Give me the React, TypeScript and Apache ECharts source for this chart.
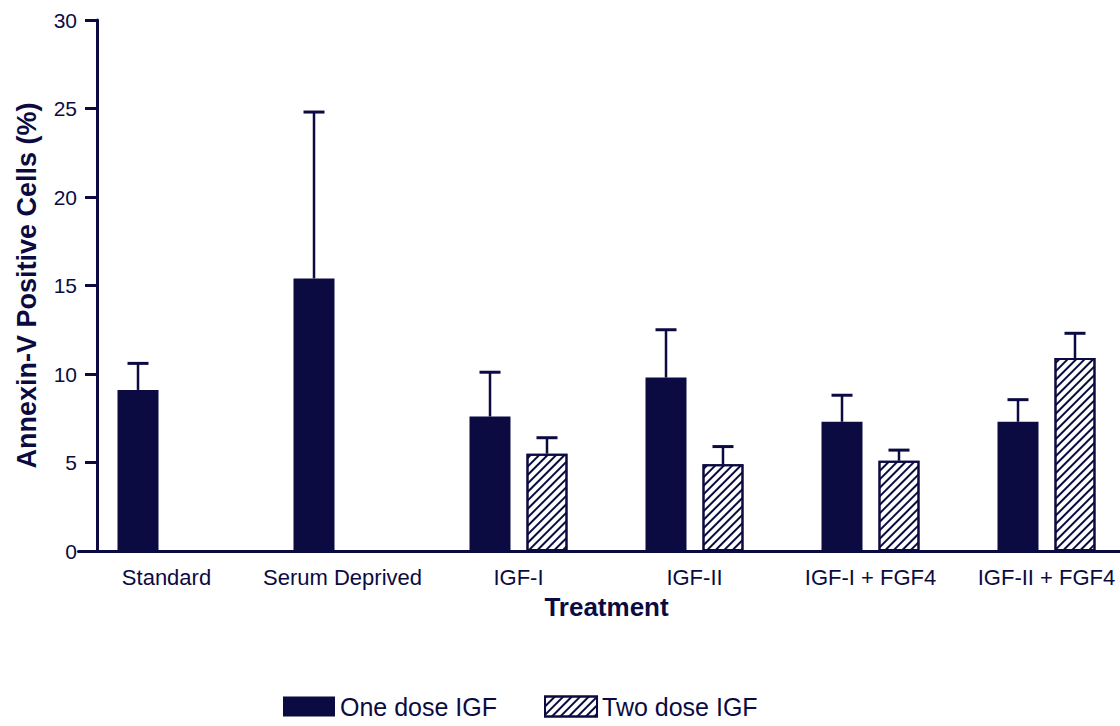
import React, { useEffect, useRef } from "react";
import * as echarts from "echarts";

const categories = ["Standard", "Serum Deprived", "IGF-I", "IGF-II", "IGF-I + FGF4", "IGF-II + FGF4"];
const oneDoseMean = [9.1, 15.4, 7.6, 9.8, 7.3, 7.3];
const oneDoseErr = [1.5, 9.4, 2.5, 2.7, 1.5, 1.25];
const twoDoseMean: (number | null)[] = [null, null, 5.5, 4.9, 5.1, 10.9];
const twoDoseErr: (number | null)[] = [null, null, 0.9, 1.0, 0.6, 1.4];
const yTicks = { min: 0, max: 30, interval: 5 };

const NAVY = "#0b0b42";
const FONT = "'Liberation Sans', Arial, sans-serif";
const BAR_W = 41;
const BAR_GAP = 0.39;

export default function App() {
  const ref = useRef<HTMLDivElement>(null);
  useEffect(() => {
    if (!ref.current) return;
    const chart = echarts.init(ref.current, undefined, { renderer: "svg" });
    const offset = (BAR_W * (1 + BAR_GAP)) / 2;

    const errData: number[][] = [];
    categories.forEach((_, i) => {
      errData.push([i, oneDoseMean[i], oneDoseMean[i] + oneDoseErr[i], -1]);
      const m = twoDoseMean[i];
      const e = twoDoseErr[i];
      if (m != null && e != null) errData.push([i, m, m + e, 1]);
    });

    chart.setOption({
      animation: false,
      backgroundColor: "#ffffff",
      textStyle: { fontFamily: FONT },
      grid: { left: 78.5, width: 1056, top: 20, height: 531, containLabel: false },
      legend: {
        left: 278,
        top: 689,
        itemWidth: 52,
        itemHeight: 20,
        itemGap: 47,
        icon: "rect",
        textStyle: { fontSize: 25, color: NAVY, fontFamily: FONT },
        data: ["One dose IGF", "Two dose IGF"],
      },
      xAxis: {
        type: "category",
        data: categories,
        boundaryGap: true,
        name: "Treatment",
        nameLocation: "middle",
        nameGap: 43,
        nameTextStyle: { fontSize: 26, fontWeight: "bold", color: NAVY, fontFamily: FONT },
        axisLine: { lineStyle: { color: NAVY, width: 3 } },
        axisTick: { show: false },
        axisLabel: { interval: 0, fontSize: 22, color: NAVY, margin: 15, fontFamily: FONT },
        splitLine: { show: false },
      },
      yAxis: {
        type: "value",
        min: yTicks.min,
        max: yTicks.max,
        interval: yTicks.interval,
        offset: -18.5,
        name: "Annexin-V Positive Cells (%)",
        nameLocation: "middle",
        nameGap: 57,
        nameTextStyle: { fontSize: 27, fontWeight: "bold", color: NAVY, fontFamily: FONT },
        axisLine: { show: true, lineStyle: { color: NAVY, width: 3 } },
        axisTick: { show: true, inside: false, length: 12, lineStyle: { color: NAVY, width: 3 } },
        axisLabel: { fontSize: 21, color: NAVY, margin: 20, fontFamily: FONT },
        splitLine: { show: false },
      },
      series: [
        {
          name: "One dose IGF",
          type: "bar",
          barWidth: BAR_W,
          barGap: BAR_GAP * 100 + "%",
          data: oneDoseMean,
          itemStyle: { color: NAVY },
        },
        {
          name: "Two dose IGF",
          type: "bar",
          barWidth: BAR_W,
          barGap: BAR_GAP * 100 + "%",
          data: twoDoseMean.map((v) => (v == null ? "-" : v)),
          itemStyle: {
            color: "#ffffff",
            borderColor: NAVY,
            borderWidth: 2,
            decal: {
              symbol: "rect",
              symbolSize: 1,
              color: NAVY,
              dashArrayX: [1, 0],
              dashArrayY: [2, 4],
              rotation: -Math.PI / 4,
            },
          },
        },
        {
          type: "custom",
          name: "err",
          z: 5,
          silent: true,
          encode: { x: 0, y: 1 },
          data: errData,
          renderItem: (params: any, api: any) => {
            const idx = api.value(0);
            const low = api.coord([idx, api.value(1)]);
            const high = api.coord([idx, api.value(2)]);
            const x = low[0] + api.value(3) * offset;
            const style = { stroke: NAVY, lineWidth: 2.5 };
            return {
              type: "group",
              children: [
                { type: "line", shape: { x1: x, y1: low[1], x2: x, y2: high[1] }, style },
                { type: "line", shape: { x1: x - 10.5, y1: high[1], x2: x + 10.5, y2: high[1] }, style: { stroke: NAVY, lineWidth: 3 } },
              ],
            };
          },
        },
      ],
    });
    return () => chart.dispose();
  }, []);
  return (
    <div style={{ position: "absolute", left: 0, top: 0, width: 1120, height: 726, overflow: "hidden" }}>
      <div ref={ref} style={{ width: 1140, height: 726 }} />
    </div>
  );
}
